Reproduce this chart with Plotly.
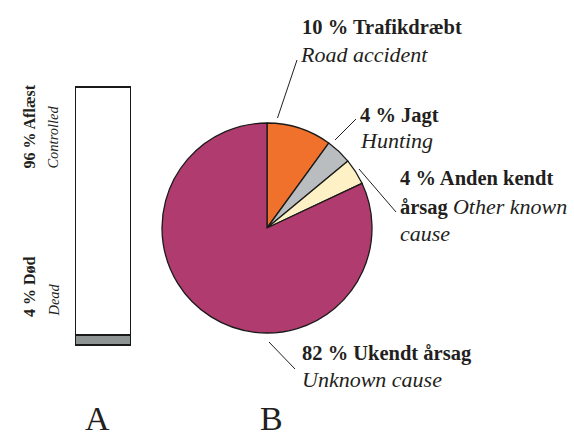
import plotly.graph_objects as go

W, H = 574, 439

# ---- data ----
bar_labels = ["Død", "Aflæst"]
bar_values = [4, 96]
bar_colors = ["#8E9394", "#FFFFFF"]

pie_labels = ["Trafikdræbt", "Jagt", "Anden kendt årsag", "Ukendt årsag"]
pie_values = [10, 4, 4, 82]
pie_colors = ["#F0712C", "#B9BDBF", "#FDF1C5", "#B03B6E"]

FONT = "Liberation Serif"
TXT = "#231F20"
FB = 20.5    # bold horizontal
FI = 22      # italic horizontal
FRB = 16     # rotated bold
FRI = 14.5   # rotated italic


def px(x):
    return x / W


def py(y):
    return 1 - y / H


fig = go.Figure()

# stacked bar (A)
for lab, val, col in zip(bar_labels, bar_values, bar_colors):
    fig.add_trace(go.Bar(
        x=["A"], y=[val], name=lab, width=1, cliponaxis=False,
        marker=dict(color=col, line=dict(color="#1a1a1a", width=1.5)),
        hoverinfo="skip", showlegend=False,
    ))

# pie (B)
fig.add_trace(go.Pie(
    labels=pie_labels, values=pie_values, sort=False, direction="clockwise",
    rotation=0, textinfo="none", hoverinfo="skip", showlegend=False,
    marker=dict(colors=pie_colors, line=dict(color="#1a1a1a", width=1.3)),
    domain=dict(x=[px(162), px(372)], y=[py(333), py(123)]),
))

# axis ranges padded slightly so the bar outline is not clipped
XPAD, YPAD = 0.05, 2.0
bx0, bx1 = 76, 131          # bar pixel extent
by0, by1 = 346, 88
xs = (bx1 - bx0) / 1.0
ys = (by0 - by1) / 100.0
fig.update_layout(
    width=W, height=H, margin=dict(l=0, r=0, t=0, b=0),
    paper_bgcolor="white", plot_bgcolor="white",
    barmode="stack", bargap=0,
    xaxis=dict(domain=[px(bx0 - XPAD * xs), px(bx1 + XPAD * xs)],
               range=[-0.5 - XPAD, 0.5 + XPAD], visible=False),
    yaxis=dict(domain=[py(by0 + YPAD * ys), py(by1 - YPAD * ys)],
               range=[-YPAD, 100 + YPAD], visible=False),
    font=dict(family=FONT, color=TXT, size=FB),
)


def hline(x, baseline, text, size):
    fig.add_annotation(x=px(x), y=py(baseline - 0.34 * size), xref="paper", yref="paper",
                       text=text, showarrow=False, xanchor="left", yanchor="middle",
                       font=dict(family=FONT, size=size, color=TXT))


def vline(baseline_x, start_y, text, size):
    fig.add_annotation(x=px(baseline_x - 0.34 * size), y=py(start_y), xref="paper", yref="paper",
                       text=text, showarrow=False, xanchor="center", yanchor="bottom",
                       textangle=-90, font=dict(family=FONT, size=size, color=TXT))


# rotated bar labels
vline(35, 171, "<b>96 % Aflæst</b>", FRB)
vline(58, 171, "<i>Controlled</i>", FRI)
vline(35, 319, "<b>4 % Død</b>", FRB)
vline(58, 319, "<i>Dead</i>", FRI)

# pie labels
hline(300, 34, "<b>10 % Trafikdræbt</b>", FB)
hline(298, 62, "<i>Road accident</i>", FI)
hline(358, 122, "<b>4 % Jagt</b>", FB)
hline(358, 148, "<i>Hunting</i>", FI)
hline(398, 185, "<b>4 % Anden kendt</b>", FB)
hline(398, 213, "<b>årsag</b> <i><span style='font-size:%dpx'>Other known</span></i>" % FI, FB)
hline(398, 241, "<i>cause</i>", FI)
hline(300, 360, "<b>82 % Ukendt årsag</b>", FB)
hline(300, 387, "<i>Unknown cause</i>", FI)

# leader lines
for x0, y0, x1, y1 in [(277.5, 118, 297, 60), (335, 140, 356, 119),
                       (359, 169, 396, 212), (269, 342, 295, 369)]:
    fig.add_shape(type="line", xref="paper", yref="paper",
                  x0=px(x0), y0=py(y0), x1=px(x1), y1=py(y1),
                  line=dict(color=TXT, width=1))

# panel letters
for x, t in [(97.5, "A"), (271.5, "B")]:
    fig.add_annotation(x=px(x), y=0, xref="paper", yref="paper",
                       text=t, showarrow=False, xanchor="center", yanchor="bottom",
                       font=dict(family=FONT, size=34, color=TXT))

fig.write_html("out.html", config={"displayModeBar": False},
               post_script="document.body.style.margin='0';")
